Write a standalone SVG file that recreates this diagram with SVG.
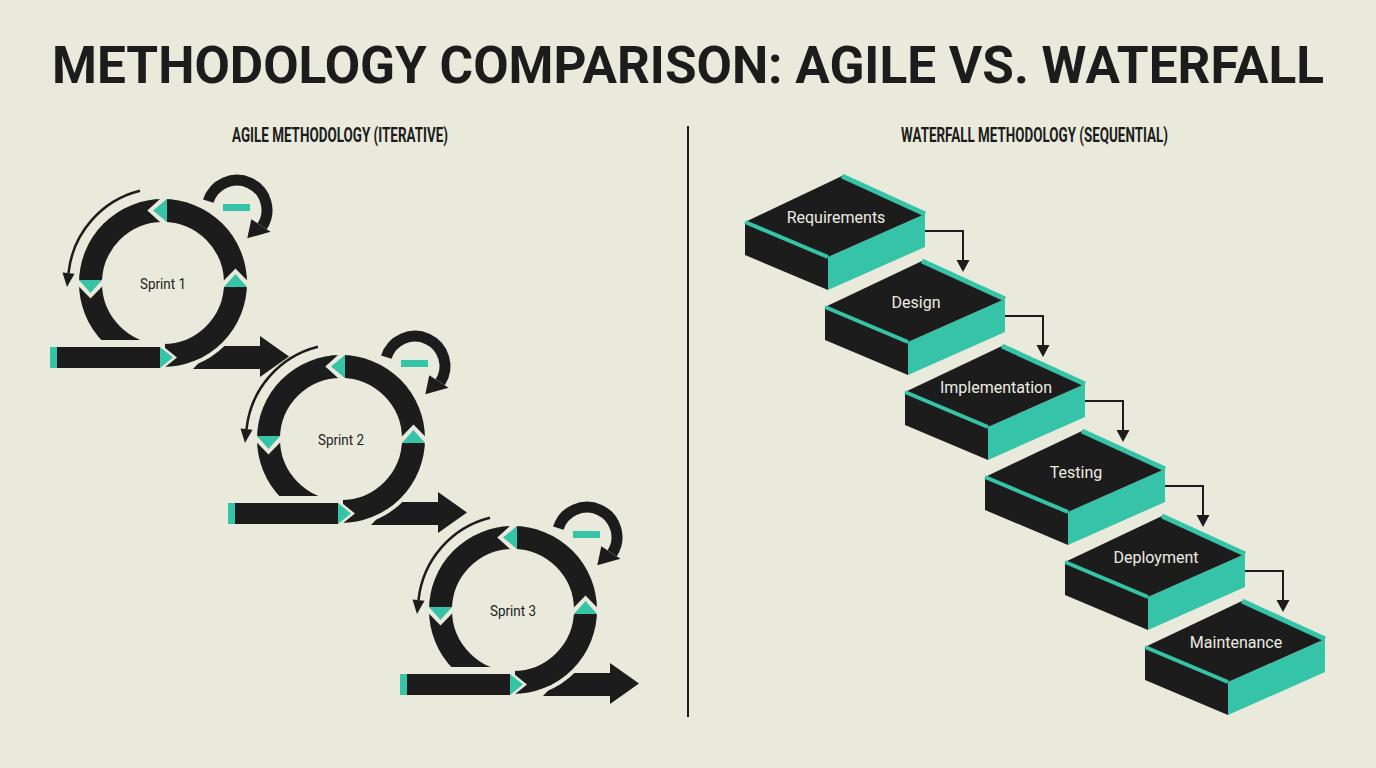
<svg xmlns="http://www.w3.org/2000/svg" width="1376" height="768" viewBox="0 0 1376 768">
<style>
.bg{fill:#e9eadb}
.ink{fill:#1c1c1c}
.teal{fill:#35c4a8}
.gap{fill:none;stroke:#e9eadb;stroke-width:5}
.thin{fill:none;stroke:#1c1c1c;stroke-width:2.5}
.loop{fill:none;stroke:#1c1c1c;stroke-width:11}
.wline{fill:none;stroke:#1c1c1c;stroke-width:2}
.tstripe{stroke:#35c4a8;stroke-width:5}
.title{font-family:Roboto,"Liberation Sans",sans-serif;font-weight:700;font-size:51px;fill:#1c1c1c}
.sub{font-family:Roboto,"Liberation Sans",sans-serif;font-weight:700;font-size:21px;fill:#1c1c1c}
.sprint{font-family:Roboto,"Liberation Sans",sans-serif;font-size:15px;fill:#1c1c1c;text-anchor:middle}
.step{font-family:Roboto,"Liberation Sans",sans-serif;font-size:16px;fill:#ecece2;text-anchor:middle}
</style>
<defs>
<g id="ring">
<circle r="72.5" fill="none" stroke="#e9eadb" stroke-width="31"/>
<circle r="72.5" fill="none" stroke="#1c1c1c" stroke-width="23"/>
<rect x="-95" y="57" width="97" height="35" class="bg"/>
<polyline class="gap" points="4,-87 -12,-72.5 4,-58"/>
<polygon class="teal" points="4,-84 4,-61 -10,-72.5"/>
<polyline class="gap" points="-87,-3 -72.5,12 -58,-3"/>
<polygon class="teal" points="-84,-3 -61,-3 -72.5,10"/>
<polyline class="gap" points="87,4 72.5,-11 58,4"/>
<polygon class="teal" points="84,4 61,4 72.5,-9"/>
<polygon class="gap" points="-113,64 -3,64 10,74.5 -3,85 -113,85"/>
<rect x="-113" y="64" width="110" height="21" class="ink"/>
<rect x="-113" y="64" width="7" height="21" class="teal"/>
<polygon class="teal" points="-3,64 10,74.5 -3,85"/>
<path class="thin" d="M -23,-92.2 A 95 95 0 0 0 -94.5,-9.9"/>
<polygon class="ink" points="-96,4 -88.5,-9.3 -100.5,-10.5"/>
<path class="loop" d="M 45.3,-81.8 A 30 30 0 1 1 99.2,-56.7"/>
<polygon class="ink" points="88.3,-63.7 107.5,-51.2 84.3,-44.7"/>
<rect x="60" y="-79" width="27" height="7" class="teal"/>
</g>
<polygon id="flow" class="ink" points="30,86 52,63 97,63 97,53 126,73.5 97,94 97,86"/>
<g id="slab">
<polygon class="teal" points="-8,40 89,-3 89,30 -8,73"/>
<polygon class="ink" points="-91,5 -8,40 -8,73 -91,38"/>
<polygon class="ink" points="-91,5 6,-41 89,-3 -8,40"/>
<line class="tstripe" x1="6" y1="-41" x2="89" y2="-3"/>
<line class="tstripe" x1="-91" y1="5" x2="-8" y2="40" style="stroke-width:4"/>
</g>
<g id="down">
<path class="wline" d="M 89,14 H 127 V 44"/>
<polygon class="ink" points="120.5,43 133.5,43 127,55"/>
</g>
</defs>
<rect width="1376" height="768" class="bg"/>
<text class="title" x="688" y="83" text-anchor="middle" textLength="1272" lengthAdjust="spacingAndGlyphs">METHODOLOGY COMPARISON: AGILE VS. WATERFALL</text>
<text class="sub" x="340" y="142" text-anchor="middle" textLength="216" lengthAdjust="spacingAndGlyphs">AGILE METHODOLOGY (ITERATIVE)</text>
<text class="sub" x="1034.5" y="142" text-anchor="middle" textLength="267" lengthAdjust="spacingAndGlyphs">WATERFALL METHODOLOGY (SEQUENTIAL)</text>
<line x1="688" y1="126" x2="688" y2="717" stroke="#1c1c1c" stroke-width="2"/>
<g id="connectors">
<use href="#flow" transform="translate(163,283)"/>
<use href="#flow" transform="translate(341,439)"/>
<use href="#flow" transform="translate(513,610)"/>
<use href="#down" transform="translate(836,217)"/>
<use href="#down" transform="translate(916,302)"/>
<use href="#down" transform="translate(996,387)"/>
<use href="#down" transform="translate(1076,472)"/>
<use href="#down" transform="translate(1156,557)"/>
</g>
<g id="sprint1" transform="translate(163,283)"><use href="#ring"/><text class="sprint" y="6" textLength="46" lengthAdjust="spacingAndGlyphs">Sprint 1</text></g>
<g id="sprint2" transform="translate(341,439)"><use href="#ring"/><text class="sprint" y="6" textLength="46" lengthAdjust="spacingAndGlyphs">Sprint 2</text></g>
<g id="sprint3" transform="translate(513,610)"><use href="#ring"/><text class="sprint" y="6" textLength="46" lengthAdjust="spacingAndGlyphs">Sprint 3</text></g>
<g id="requirements" transform="translate(836,217)"><use href="#slab"/><text class="step" y="5.5">Requirements</text></g>
<g id="design" transform="translate(916,302)"><use href="#slab"/><text class="step" y="5.5">Design</text></g>
<g id="implementation" transform="translate(996,387)"><use href="#slab"/><text class="step" y="5.5">Implementation</text></g>
<g id="testing" transform="translate(1076,472)"><use href="#slab"/><text class="step" y="5.5">Testing</text></g>
<g id="deployment" transform="translate(1156,557)"><use href="#slab"/><text class="step" y="5.5">Deployment</text></g>
<g id="maintenance" transform="translate(1236,642)"><use href="#slab"/><text class="step" y="5.5">Maintenance</text></g>
</svg>
